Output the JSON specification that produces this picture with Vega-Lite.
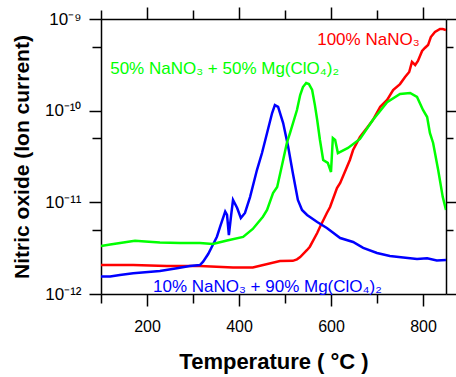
{
  "$schema": "https://vega.github.io/schema/vega-lite/v6.json",
  "width": 345,
  "height": 275,
  "autosize": {"type": "none"},
  "padding": {"left": 101, "top": 19, "right": 10, "bottom": 83},
  "background": "white",
  "config": {
    "view": {"stroke": null},
    "font": "Liberation Sans",
    "axis": {
      "domainColor": "black", "domainWidth": 1.5,
      "tickColor": "black", "tickWidth": 1.5,
      "labelColor": "black", "labelFont": "Liberation Sans", "labelFontSize": 16,
      "titleFont": "Liberation Sans", "titleFontSize": 21, "titleFontWeight": "bold", "titleColor": "black",
      "grid": false, "labelOverlap": false, "labelFlush": false
    }
  },
  "datasets": {
    "curves": [
      {"s": "red", "T": 100, "v": 2.07e-12},
      {"s": "red", "T": 170, "v": 2.07e-12},
      {"s": "red", "T": 243, "v": 2.02e-12},
      {"s": "red", "T": 315, "v": 2.02e-12},
      {"s": "red", "T": 387, "v": 1.94e-12},
      {"s": "red", "T": 430, "v": 1.95e-12},
      {"s": "red", "T": 489, "v": 2.29e-12},
      {"s": "red", "T": 517, "v": 2.30e-12},
      {"s": "red", "T": 526, "v": 2.39e-12},
      {"s": "red", "T": 533, "v": 2.53e-12},
      {"s": "red", "T": 548, "v": 3.02e-12},
      {"s": "red", "T": 554, "v": 3.28e-12},
      {"s": "red", "T": 570, "v": 4.63e-12},
      {"s": "red", "T": 576, "v": 5.38e-12},
      {"s": "red", "T": 591, "v": 7.65e-12},
      {"s": "red", "T": 598, "v": 8.89e-12},
      {"s": "red", "T": 613, "v": 1.43e-11},
      {"s": "red", "T": 620, "v": 1.63e-11},
      {"s": "red", "T": 641, "v": 2.90e-11},
      {"s": "red", "T": 648, "v": 3.72e-11},
      {"s": "red", "T": 663, "v": 5.16e-11},
      {"s": "red", "T": 678, "v": 6.47e-11},
      {"s": "red", "T": 691, "v": 7.91e-11},
      {"s": "red", "T": 707, "v": 1.10e-10},
      {"s": "red", "T": 722, "v": 1.31e-10},
      {"s": "red", "T": 735, "v": 1.68e-10},
      {"s": "red", "T": 750, "v": 1.95e-10},
      {"s": "red", "T": 761, "v": 2.33e-10},
      {"s": "red", "T": 770, "v": 2.64e-10},
      {"s": "red", "T": 776, "v": 3.40e-10},
      {"s": "red", "T": 783, "v": 3.15e-10},
      {"s": "red", "T": 789, "v": 3.48e-10},
      {"s": "red", "T": 798, "v": 4.48e-10},
      {"s": "red", "T": 804, "v": 4.83e-10},
      {"s": "red", "T": 811, "v": 5.20e-10},
      {"s": "red", "T": 817, "v": 6.36e-10},
      {"s": "red", "T": 826, "v": 7.21e-10},
      {"s": "red", "T": 837, "v": 7.78e-10},
      {"s": "red", "T": 843, "v": 7.78e-10},
      {"s": "red", "T": 850, "v": 7.59e-10},
      {"s": "blue", "T": 100, "v": 1.55e-12},
      {"s": "blue", "T": 120, "v": 1.55e-12},
      {"s": "blue", "T": 141, "v": 1.61e-12},
      {"s": "blue", "T": 170, "v": 1.68e-12},
      {"s": "blue", "T": 228, "v": 1.78e-12},
      {"s": "blue", "T": 265, "v": 1.91e-12},
      {"s": "blue", "T": 293, "v": 2.02e-12},
      {"s": "blue", "T": 315, "v": 2.07e-12},
      {"s": "blue", "T": 322, "v": 2.25e-12},
      {"s": "blue", "T": 333, "v": 2.73e-12},
      {"s": "blue", "T": 343, "v": 3.42e-12},
      {"s": "blue", "T": 352, "v": 4.22e-12},
      {"s": "blue", "T": 359, "v": 5.42e-12},
      {"s": "blue", "T": 370, "v": 7.91e-12},
      {"s": "blue", "T": 374, "v": 7.28e-12},
      {"s": "blue", "T": 378, "v": 4.40e-12},
      {"s": "blue", "T": 383, "v": 7.28e-12},
      {"s": "blue", "T": 387, "v": 1.06e-11},
      {"s": "blue", "T": 396, "v": 8.67e-12},
      {"s": "blue", "T": 404, "v": 6.75e-12},
      {"s": "blue", "T": 413, "v": 7.65e-12},
      {"s": "blue", "T": 424, "v": 1.14e-11},
      {"s": "blue", "T": 439, "v": 2.25e-11},
      {"s": "blue", "T": 450, "v": 3.45e-11},
      {"s": "blue", "T": 461, "v": 5.71e-11},
      {"s": "blue", "T": 472, "v": 9.43e-11},
      {"s": "blue", "T": 478, "v": 1.15e-10},
      {"s": "blue", "T": 485, "v": 1.10e-10},
      {"s": "blue", "T": 496, "v": 7.33e-11},
      {"s": "blue", "T": 507, "v": 4.02e-11},
      {"s": "blue", "T": 517, "v": 2.09e-11},
      {"s": "blue", "T": 528, "v": 1.06e-11},
      {"s": "blue", "T": 537, "v": 8.25e-12},
      {"s": "blue", "T": 548, "v": 7.28e-12},
      {"s": "blue", "T": 570, "v": 6.10e-12},
      {"s": "blue", "T": 591, "v": 5.25e-12},
      {"s": "blue", "T": 620, "v": 4.08e-12},
      {"s": "blue", "T": 648, "v": 3.69e-12},
      {"s": "blue", "T": 670, "v": 3.18e-12},
      {"s": "blue", "T": 700, "v": 2.80e-12},
      {"s": "blue", "T": 728, "v": 2.60e-12},
      {"s": "blue", "T": 757, "v": 2.50e-12},
      {"s": "blue", "T": 787, "v": 2.41e-12},
      {"s": "blue", "T": 809, "v": 2.45e-12},
      {"s": "blue", "T": 830, "v": 2.32e-12},
      {"s": "blue", "T": 850, "v": 2.35e-12},
      {"s": "green", "T": 100, "v": 3.34e-12},
      {"s": "green", "T": 120, "v": 3.47e-12},
      {"s": "green", "T": 163, "v": 3.74e-12},
      {"s": "green", "T": 174, "v": 3.82e-12},
      {"s": "green", "T": 196, "v": 3.74e-12},
      {"s": "green", "T": 228, "v": 3.65e-12},
      {"s": "green", "T": 272, "v": 3.60e-12},
      {"s": "green", "T": 315, "v": 3.60e-12},
      {"s": "green", "T": 343, "v": 3.51e-12},
      {"s": "green", "T": 374, "v": 3.83e-12},
      {"s": "green", "T": 409, "v": 4.19e-12},
      {"s": "green", "T": 430, "v": 5.12e-12},
      {"s": "green", "T": 452, "v": 6.97e-12},
      {"s": "green", "T": 461, "v": 8.25e-12},
      {"s": "green", "T": 474, "v": 1.265e-11},
      {"s": "green", "T": 483, "v": 1.47e-11},
      {"s": "green", "T": 496, "v": 2.90e-11},
      {"s": "green", "T": 504, "v": 4.44e-11},
      {"s": "green", "T": 511, "v": 5.71e-11},
      {"s": "green", "T": 526, "v": 1.017e-10},
      {"s": "green", "T": 533, "v": 1.48e-10},
      {"s": "green", "T": 539, "v": 1.81e-10},
      {"s": "green", "T": 546, "v": 2.00e-10},
      {"s": "green", "T": 552, "v": 1.95e-10},
      {"s": "green", "T": 559, "v": 1.68e-10},
      {"s": "green", "T": 565, "v": 1.15e-10},
      {"s": "green", "T": 570, "v": 7.91e-11},
      {"s": "green", "T": 576, "v": 4.79e-11},
      {"s": "green", "T": 583, "v": 2.90e-11},
      {"s": "green", "T": 593, "v": 2.69e-11},
      {"s": "green", "T": 600, "v": 2.14e-11},
      {"s": "green", "T": 604, "v": 5.03e-11},
      {"s": "green", "T": 609, "v": 4.79e-11},
      {"s": "green", "T": 615, "v": 3.45e-11},
      {"s": "green", "T": 637, "v": 3.92e-11},
      {"s": "green", "T": 663, "v": 4.91e-11},
      {"s": "green", "T": 691, "v": 7.91e-11},
      {"s": "green", "T": 722, "v": 1.24e-10},
      {"s": "green", "T": 750, "v": 1.52e-10},
      {"s": "green", "T": 772, "v": 1.56e-10},
      {"s": "green", "T": 787, "v": 1.41e-10},
      {"s": "green", "T": 800, "v": 1.017e-10},
      {"s": "green", "T": 809, "v": 8.53e-11},
      {"s": "green", "T": 815, "v": 5.71e-11},
      {"s": "green", "T": 822, "v": 4.44e-11},
      {"s": "green", "T": 833, "v": 2.25e-11},
      {"s": "green", "T": 843, "v": 1.14e-11},
      {"s": "green", "T": 850, "v": 8.25e-12}
    ],
    "labels": [
      {"s": "red", "T": 570, "v": 5.2e-10, "label": "100% NaNO₃"},
      {"s": "green", "T": 120, "v": 2.51e-10, "label": "50% NaNO₃ + 50% Mg(ClO₄)₂"},
      {"s": "blue", "T": 213, "v": 1.06e-12, "label": "10% NaNO₃ + 90% Mg(ClO₄)₂"}
    ]
  },
  "layer": [
    {
      "data": {"name": "curves"},
      "mark": {"type": "line", "strokeWidth": 2.5, "clip": true},
      "encoding": {
        "x": {
          "field": "T", "type": "quantitative",
          "scale": {"domain": [100, 850], "nice": false, "zero": false},
          "axis": {
            "orient": "bottom",
            "values": [100, 200, 300, 400, 500, 600, 700, 800],
            "labelExpr": "datum.value % 200 == 0 ? datum.label : ''",
            "tickSize": {"condition": {"test": "datum.value % 200 == 0", "value": 12}, "value": 9},
            "labelPadding": 12,
            "title": "Temperature ( °C )",
            "titleFontSize": 22,
            "titlePadding": 17
          }
        },
        "y": {
          "field": "v", "type": "quantitative",
          "scale": {"type": "log", "domain": [1e-12, 1e-9], "nice": false},
          "axis": {
            "orient": "left",
            "values": [1e-12, 5e-12, 1e-11, 5e-11, 1e-10, 5e-10, 1e-9],
            "labelExpr": "abs(datum.value/1e-12-1)<0.01 ? '10⁻¹²' : abs(datum.value/1e-11-1)<0.01 ? '10⁻¹¹' : abs(datum.value/1e-10-1)<0.01 ? '10⁻¹⁰' : abs(datum.value/1e-9-1)<0.01 ? '10⁻⁹' : ''",
            "tickSize": {"condition": {"test": "abs(log(datum.value)/LN10 - round(log(datum.value)/LN10)) < 0.01", "value": 12}, "value": 9},
            "labelFontSize": 17,
            "labelPadding": 8,
            "title": "Nitric oxide (Ion current)",
            "titlePadding": 12
          }
        },
        "color": {
          "field": "s", "type": "nominal",
          "scale": {"domain": ["red", "green", "blue"], "range": ["#ff0000", "#00ff00", "#0000ff"]},
          "legend": null
        }
      }
    },
    {
      "data": {"name": "labels"},
      "mark": {"type": "text", "align": "left", "baseline": "alphabetic", "fontSize": 17, "font": "Liberation Sans"},
      "encoding": {
        "x": {
          "field": "T", "type": "quantitative",
          "scale": {"domain": [100, 850], "nice": false, "zero": false},
          "axis": {
            "orient": "top",
            "values": [100, 200, 300, 400, 500, 600, 700, 800],
            "labels": false, "title": null,
            "tickSize": {"condition": {"test": "datum.value % 200 == 0", "value": 12}, "value": 9}
          }
        },
        "y": {
          "field": "v", "type": "quantitative",
          "scale": {"type": "log", "domain": [1e-12, 1e-9], "nice": false},
          "axis": {
            "orient": "right",
            "values": [1e-12, 5e-12, 1e-11, 5e-11, 1e-10, 5e-10, 1e-9],
            "labels": false, "title": null,
            "tickSize": {"condition": {"test": "abs(log(datum.value)/LN10 - round(log(datum.value)/LN10)) < 0.01", "value": 10}, "value": 7}
          }
        },
        "text": {"field": "label"},
        "color": {"field": "s", "type": "nominal", "legend": null}
      }
    }
  ],
  "resolve": {"axis": {"x": "independent", "y": "independent"}}
}
